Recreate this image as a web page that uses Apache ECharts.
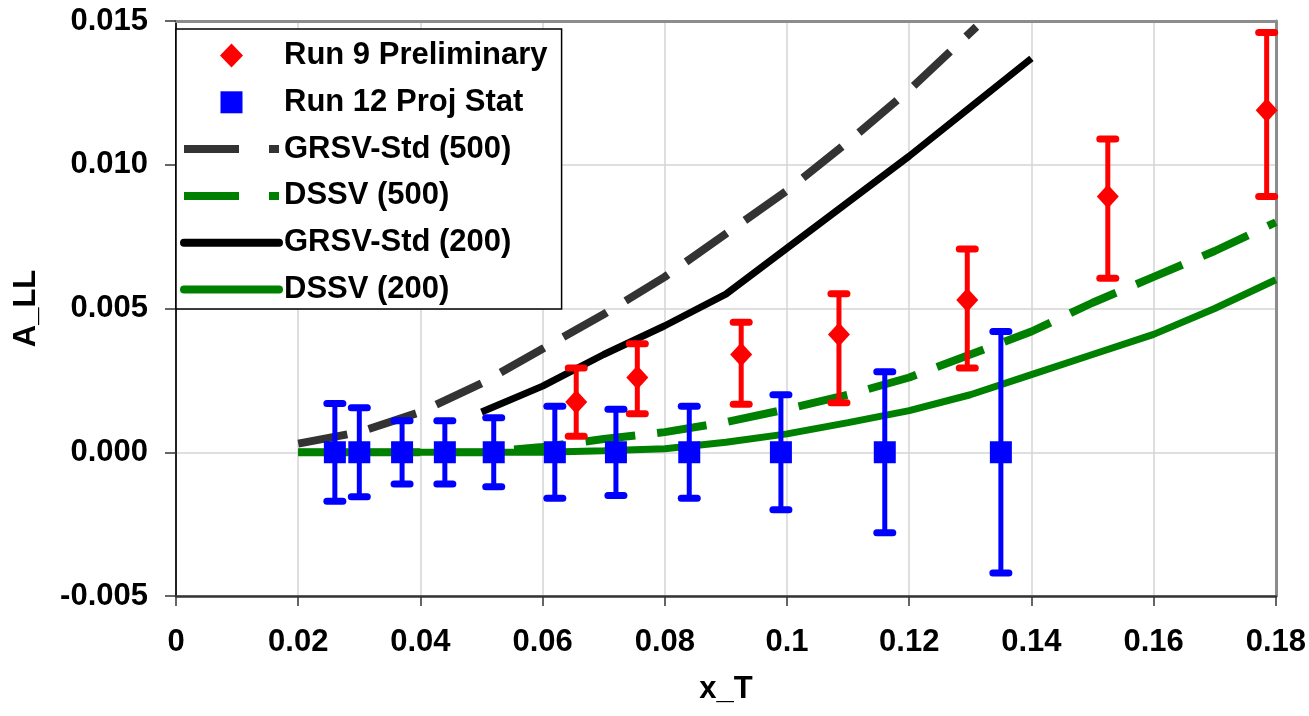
<!DOCTYPE html>
<html>
<head>
<meta charset="utf-8">
<title>A_LL vs x_T</title>
<script src="https://cdn.jsdelivr.net/npm/echarts@6/dist/echarts.min.js"></script>
<style>
  html, body { margin: 0; padding: 0; background: #fff; }
  #chart { width: 1309px; height: 716px; }
</style>
</head>
<body>
<div id="chart"></div>
<script>
// Run 9 preliminary points with asymmetric error bars
const run9X = [0.0655, 0.0755, 0.0925, 0.1085, 0.1295, 0.1525, 0.1785];
const run9Y = [0.00175, 0.0026, 0.0034, 0.0041, 0.0053, 0.0089, 0.0119];
const run9Lo = [0.00056, 0.00134, 0.00167, 0.00172, 0.00293, 0.00605, 0.0089];
const run9Hi = [0.00293, 0.00377, 0.00452, 0.00551, 0.00707, 0.0109, 0.0146];

// Run 12 projected statistical errors, all centred on zero
const run12X = [0.026, 0.030, 0.037, 0.044, 0.052, 0.062, 0.072, 0.084, 0.099, 0.116, 0.135];
const run12Y = [0, 0, 0, 0, 0, 0, 0, 0, 0, 0, 0];
const run12Err = [0.0017, 0.00155, 0.0011, 0.0011, 0.0012, 0.0016, 0.0015, 0.0016, 0.0020, 0.0028, 0.0042];

// theory curves
const grsv500X = [0.02, 0.03, 0.04, 0.05, 0.06, 0.07, 0.08, 0.09, 0.10, 0.11, 0.12, 0.131];
const grsv500Y = [0.0003, 0.0007, 0.0014, 0.0024, 0.0036, 0.0048, 0.0061, 0.0076, 0.0091, 0.0108, 0.0126, 0.0148];
const dssv500X = [0.02, 0.03, 0.04, 0.05, 0.06, 0.07, 0.08, 0.09, 0.10, 0.11, 0.12, 0.13, 0.14, 0.15, 0.16, 0.17, 0.18];
const dssv500Y = [0.0, 0.0, 0.0, 0.0, 0.00018, 0.00046, 0.0007, 0.00105, 0.0015, 0.002, 0.0026, 0.0034, 0.0042, 0.0052, 0.0061, 0.007, 0.008];
const grsv200X = [0.05, 0.06, 0.07, 0.08, 0.09, 0.10, 0.11, 0.12, 0.13, 0.14];
const grsv200Y = [0.0014, 0.0023, 0.0034, 0.0044, 0.0055, 0.0071, 0.0087, 0.0103, 0.012, 0.0137];
const dssv200X = [0.02, 0.03, 0.04, 0.05, 0.06, 0.07, 0.08, 0.09, 0.10, 0.11, 0.12, 0.13, 0.14, 0.15, 0.16, 0.17, 0.18];
const dssv200Y = [0.0, 0.0, 0.0, 0.0, 0.0, 0.00005, 0.00012, 0.00035, 0.00064, 0.00103, 0.00145, 0.002, 0.0027, 0.0034, 0.0041, 0.005, 0.006];

const xTicks = ['0', '0.02', '0.04', '0.06', '0.08', '0.1', '0.12', '0.14', '0.16', '0.18'];
const yTicks = ['-0.005', '0.000', '0.005', '0.010', '0.015'];

const FONT = '"Liberation Sans", Arial, sans-serif';

// legend markers: the two leading moves pin the box to 95x24 so the
// marker keeps its shape and sits in the middle of the icon slot
const DIAMOND_ICON = 'path://M0,0M95,24M47.5,0L59,12L47.5,24L36,12Z';
const SQUARE_ICON = 'path://M0,0M95,24M36.5,1L58.5,1L58.5,23L36.5,23Z';

function pairs(xs, ys) {
  return xs.map(function (x, i) { return [x, ys[i]]; });
}

function errorBars(color) {
  return function (params, api) {
    const x = api.value(0);
    const lo = api.coord([x, api.value(1)]);
    const hi = api.coord([x, api.value(2)]);
    const hw = 8;
    const capStyle = { stroke: color, lineWidth: 7, lineCap: 'round' };
    return {
      type: 'group',
      children: [
        { type: 'line', shape: { x1: lo[0], y1: lo[1], x2: hi[0], y2: hi[1] },
          style: { stroke: color, lineWidth: 5 } },
        { type: 'line', shape: { x1: lo[0] - hw, y1: lo[1], x2: lo[0] + hw, y2: lo[1] }, style: capStyle },
        { type: 'line', shape: { x1: hi[0] - hw, y1: hi[1], x2: hi[0] + hw, y2: hi[1] }, style: capStyle }
      ]
    };
  };
}

const run9Err = run9X.map(function (x, i) { return [x, run9Lo[i], run9Hi[i]]; });
const run12Bars = run12X.map(function (x, i) { return [x, run12Y[i] - run12Err[i], run12Y[i] + run12Err[i]]; });

function lineSeries(name, xs, ys, color, width, dash) {
  return {
    name: name,
    type: 'line',
    data: pairs(xs, ys),
    symbol: 'none',
    showSymbol: false,
    silent: true,
    z: 2,
    lineStyle: { color: color, width: width, type: dash || 'solid', cap: 'butt' },
    itemStyle: { color: color }
  };
}

// line entries in the legend: no marker, thick stroke
function lineLegend(name, dash) {
  return {
    name: name,
    itemStyle: { opacity: 0 },
    lineStyle: { width: 8, type: dash || 'solid', cap: dash ? 'butt' : 'round' }
  };
}

const chart = echarts.init(document.getElementById('chart'), null, { renderer: 'canvas' });

chart.setOption({
  animation: false,
  backgroundColor: '#ffffff',
  grid: { left: 176, right: 28, top: 21, bottom: 120, containLabel: false },
  legend: {
    orient: 'vertical',
    left: 176,
    top: 29,
    padding: [11, 14, 4, 4],
    itemWidth: 95,
    itemHeight: 24,
    itemGap: 15.8,
    backgroundColor: '#ffffff',
    borderColor: '#000000',
    borderWidth: 1.5,
    borderRadius: 0,
    textStyle: { fontFamily: FONT, fontWeight: 'bold', fontSize: 31, lineHeight: 30, color: '#000' },
    data: [
      { name: 'Run 9 Preliminary', icon: DIAMOND_ICON },
      { name: 'Run 12 Proj Stat', icon: SQUARE_ICON },
      lineLegend('GRSV-Std (500)', [55, 30]),
      lineLegend('DSSV (500)', [55, 30]),
      lineLegend('GRSV-Std (200)'),
      lineLegend('DSSV (200)')
    ]
  },
  xAxis: [
    {
      type: 'value',
      min: 0,
      max: 0.18,
      interval: 0.02,
      name: 'x_T',
      nameLocation: 'middle',
      nameGap: 78,
      nameTextStyle: { fontFamily: FONT, fontWeight: 'bold', fontSize: 31, color: '#000' },
      axisLine: { onZero: false, lineStyle: { color: '#333', width: 2.5 } },
      axisTick: { show: true, inside: false, length: 10, lineStyle: { color: '#333', width: 1.5 } },
      axisLabel: {
        margin: 31,
        fontFamily: FONT, fontWeight: 'bold', fontSize: 31, color: '#000',
        formatter: function (v) { return xTicks[Math.round(v / 0.02)]; }
      },
      splitLine: { show: true, lineStyle: { color: '#d4d4d4', width: 1.5 } }
    },
    {
      type: 'value',
      position: 'top',
      min: 0,
      max: 0.18,
      interval: 0.02,
      axisLine: { show: true, onZero: false, lineStyle: { color: '#8c8c8c', width: 3 } },
      axisTick: { show: false },
      axisLabel: { show: false },
      splitLine: { show: false }
    }
  ],
  yAxis: [
    {
      type: 'value',
      min: -0.005,
      max: 0.015,
      interval: 0.005,
      name: 'A_LL',
      nameLocation: 'middle',
      nameGap: 134,
      nameTextStyle: { fontFamily: FONT, fontWeight: 'bold', fontSize: 31, color: '#000' },
      axisLine: { show: true, onZero: false, lineStyle: { color: '#222', width: 2 } },
      axisTick: { show: true, inside: false, length: 11, lineStyle: { color: '#333', width: 1.5 } },
      axisLabel: {
        margin: 28,
        fontFamily: FONT, fontWeight: 'bold', fontSize: 31, color: '#000',
        formatter: function (v) { return yTicks[Math.round((v + 0.005) / 0.005)]; }
      },
      splitLine: { show: true, lineStyle: { color: '#d4d4d4', width: 1.5 } }
    },
    {
      type: 'value',
      position: 'right',
      min: -0.005,
      max: 0.015,
      interval: 0.005,
      axisLine: { show: true, onZero: false, lineStyle: { color: '#8c8c8c', width: 3 } },
      axisTick: { show: false },
      axisLabel: { show: false },
      splitLine: { show: false }
    }
  ],
  series: [
    {
      name: 'Run 9 Preliminary',
      type: 'scatter',
      data: pairs(run9X, run9Y),
      symbol: 'diamond',
      symbolSize: [22, 24],
      itemStyle: { color: '#ff0000', opacity: 1 },
      z: 5
    },
    {
      name: 'Run 12 Proj Stat',
      type: 'scatter',
      data: pairs(run12X, run12Y),
      symbol: 'rect',
      symbolSize: 22,
      itemStyle: { color: '#0000ff', opacity: 1 },
      z: 5
    },
    lineSeries('GRSV-Std (500)', grsv500X, grsv500Y, '#333333', 8, [50, 22]),
    lineSeries('DSSV (500)', dssv500X, dssv500Y, '#008000', 8, [50, 22]),
    lineSeries('GRSV-Std (200)', grsv200X, grsv200Y, '#000000', 7),
    lineSeries('DSSV (200)', dssv200X, dssv200Y, '#008000', 7),
    {
      name: 'Run 9 Preliminary',
      type: 'custom',
      data: run9Err,
      encode: { x: 0, y: [1, 2] },
      renderItem: errorBars('#ff0000'),
      silent: true,
      z: 4
    },
    {
      name: 'Run 12 Proj Stat',
      type: 'custom',
      data: run12Bars,
      encode: { x: 0, y: [1, 2] },
      renderItem: errorBars('#0000ff'),
      silent: true,
      z: 4
    }
  ]
});
</script>
</body>
</html>
